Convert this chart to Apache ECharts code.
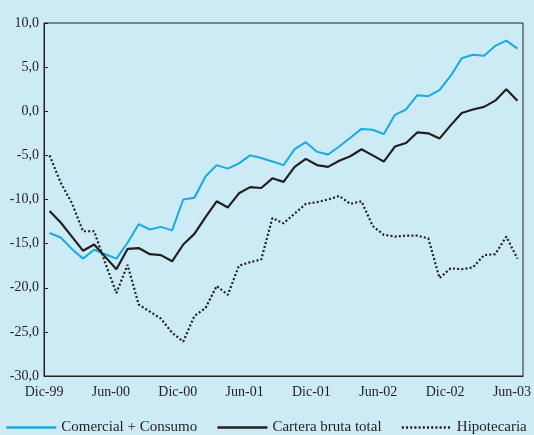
<!DOCTYPE html>
<html>
<head>
<meta charset="utf-8">
<script src="https://cdn.jsdelivr.net/npm/echarts@6/dist/echarts.min.js"></script>
<style>
  html, body { margin: 0; padding: 0; background: #cdebf4; }
  #chart { width: 534px; height: 435px; }
</style>
</head>
<body>
<div id="chart"></div>
<script>
const meses = ['Ene', 'Feb', 'Mar', 'Abr', 'May', 'Jun', 'Jul', 'Ago', 'Sep', 'Oct', 'Nov', 'Dic']

// Dic-99 ... Jun-03, mensual
const categories = ['Dic-99']
for (let y = 0; y <= 3; y++) {
  const last = y === 3 ? 6 : 12
  for (let m = 0; m < last; m++) {
    categories.push(meses[m] + '-0' + y)
  }
}

const comercialConsumo = [
  -13.8, -14.3, -15.6, -16.7, -15.7, -16.2, -16.7, -14.9, -12.8, -13.4, -13.1, -13.5,
  -10.0, -9.8, -7.4, -6.1, -6.5, -5.9, -5.0, -5.3, -5.7, -6.1, -4.3, -3.5,
  -4.6, -4.9, -4.0, -3.0, -2.0, -2.1, -2.6, -0.4, 0.2, 1.8, 1.7, 2.4,
  4.0, 6.0, 6.4, 6.3, 7.4, 8.0, 7.1
]

const carteraBruta = [
  -11.3, -12.6, -14.2, -15.8, -15.1, -16.5, -17.9, -15.6, -15.5, -16.2, -16.3, -17.0,
  -15.1, -13.9, -12.0, -10.2, -10.9, -9.3, -8.6, -8.7, -7.6, -8.0, -6.3, -5.4,
  -6.1, -6.3, -5.6, -5.1, -4.3, -5.0, -5.7, -4.0, -3.6, -2.4, -2.5, -3.1,
  -1.6, -0.2, 0.2, 0.5, 1.2, 2.5, 1.2
]

const hipotecaria = [
  -5.0, -8.1, -10.4, -13.6, -13.6, -17.2, -20.6, -17.4, -21.9, -22.7, -23.5, -25.1,
  -26.1, -23.2, -22.3, -19.8, -20.8, -17.5, -17.1, -16.8, -12.1, -12.7, -11.6, -10.5,
  -10.3, -10.0, -9.6, -10.5, -10.2, -13.0, -14.0, -14.2, -14.1, -14.1, -14.4, -18.9,
  -17.8, -17.9, -17.7, -16.3, -16.2, -14.2, -16.7
]

const yTicks = { min: -30, max: 10, interval: 5 }

const font = 'Liberation Serif'
const dark = '#231f20'

const chart = echarts.init(document.getElementById('chart'))

const option = {
  backgroundColor: '#cdebf4',
  animation: false,
  textStyle: { fontFamily: font },
  grid: {
    left: 44,
    right: 10,
    top: 23,
    bottom: 59,
    show: true,
    borderColor: dark,
    borderWidth: 1
  },
  legend: {
    bottom: 0,
    left: 5,
    padding: 0,
    itemWidth: 50,
    itemHeight: 14,
    itemGap: 19,
    itemStyle: { opacity: 0 },
    lineStyle: { width: 2.5 },
    textStyle: { fontFamily: font, fontSize: 15, color: dark },
    data: ['Comercial + Consumo', 'Cartera bruta total', 'Hipotecaria']
  },
  xAxis: {
    type: 'category',
    data: categories,
    boundaryGap: true,
    axisLine: { onZero: false, lineStyle: { color: dark, width: 1 } },
    axisTick: { inside: true, length: 4, interval: 5, lineStyle: { color: dark } },
    axisLabel: {
      interval: 5,
      margin: 9,
      padding: [0, 11, 0, 0],
      fontFamily: font,
      fontSize: 14,
      color: dark
    },
    splitLine: { show: false }
  },
  yAxis: {
    type: 'value',
    min: yTicks.min,
    max: yTicks.max,
    interval: yTicks.interval,
    axisLine: { show: true, lineStyle: { color: dark, width: 1 } },
    axisTick: { show: true, inside: true, length: 4, lineStyle: { color: dark } },
    axisLabel: {
      margin: 5,
      fontFamily: font,
      fontSize: 14,
      color: dark,
      formatter: v => v.toFixed(1).replace('.', ',')
    },
    splitLine: { show: false }
  },
  series: [
    {
      name: 'Comercial + Consumo',
      type: 'line',
      data: comercialConsumo,
      symbol: 'none',
      itemStyle: { color: '#19a9e5' },
      lineStyle: { color: '#19a9e5', width: 2 }
    },
    {
      name: 'Cartera bruta total',
      type: 'line',
      data: carteraBruta,
      symbol: 'none',
      itemStyle: { color: dark },
      lineStyle: { color: dark, width: 2.2 }
    },
    {
      name: 'Hipotecaria',
      type: 'line',
      data: hipotecaria,
      symbol: 'none',
      itemStyle: { color: dark },
      lineStyle: { color: dark, width: 2.2, type: [2, 2.2] }
    }
  ]
}

chart.setOption(option)
</script>
</body>
</html>
